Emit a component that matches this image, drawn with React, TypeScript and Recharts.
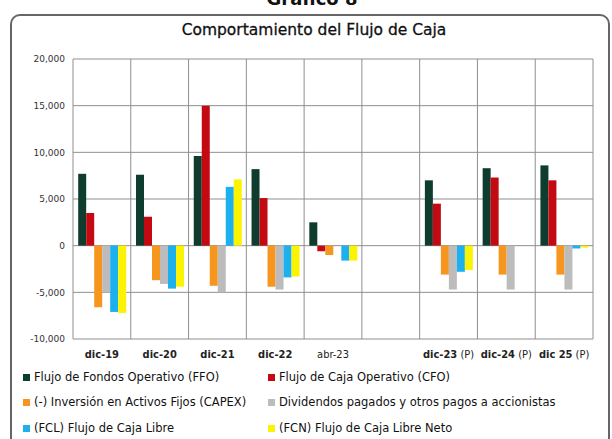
import { Bar, BarChart, CartesianGrid, XAxis, YAxis } from "recharts";

const categories = ["dic-19", "dic-20", "dic-21", "dic-22", "abr-23", "", "dic-23 (P)", "dic-24 (P)", "dic 25 (P)"];
const ffo = [7700, 7600, 9600, 8200, 2500, 0, 7000, 8300, 8600];
const cfo = [3500, 3100, 15000, 5100, -600, 0, 4500, 7300, 7000];
const capex = [-6600, -3700, -4300, -4400, -1000, 0, -3100, -3100, -3100];
const dividendos = [-5000, -4100, -5000, -4700, 0, 0, -4700, -4700, -4700];
const fcl = [-7100, -4600, 6300, -3400, -1600, 0, -2800, 0, -300];
const fcn = [-7200, -4400, 7100, -3300, -1600, 0, -2600, 0, -200];
const yTicks = [-10000, -5000, 0, 5000, 10000, 15000, 20000];

const series = [
  { key: "ffo", name: "Flujo de Fondos Operativo (FFO)", color: "#0e3d2f", values: ffo },
  { key: "cfo", name: "Flujo de Caja Operativo (CFO)", color: "#c30a12", values: cfo },
  { key: "capex", name: "(-) Inversión en Activos Fijos (CAPEX)", color: "#f7961e", values: capex },
  { key: "div", name: "Dividendos pagados y otros pagos a accionistas", color: "#bcbcbc", values: dividendos },
  { key: "fcl", name: "(FCL) Flujo de Caja Libre", color: "#1cb0ee", values: fcl },
  { key: "fcn", name: "(FCN) Flujo de Caja Libre Neto", color: "#fcf300", values: fcn },
];

const data = categories.map((c, i) => {
  const row: Record<string, string | number> = { cat: c };
  series.forEach((s) => (row[s.key] = s.values[i]));
  return row;
});

const font = "'DejaVu Sans', Verdana, sans-serif";
const condensed = "'DejaVu Sans Condensed', 'DejaVu Sans', sans-serif";

// bold "dic" period names, normal-weight "(P)" suffix and abr-23
function CatTick({ x, y, payload }: any) {
  const label: string = payload.value || "";
  const m = label.match(/^(.*?)(\s*\(P\))?$/);
  const main = m ? m[1] : label;
  const suffix = m && m[2] ? m[2] : "";
  const bold = main.startsWith("dic");
  return (
    <text x={x} y={y + 11} textAnchor="middle" fontSize={11} fill="#222" fontFamily={condensed}>
      <tspan fontWeight={bold ? "bold" : "normal"}>{main}</tspan>
      {suffix && <tspan>{suffix}</tspan>}
    </text>
  );
}

export default function App() {
  return (
    <div style={{ position: "absolute", left: 0, top: 0, width: 612, height: 439, background: "#fff", overflow: "hidden", fontFamily: font }}>
      <div style={{ position: "absolute", top: -12, left: 6, width: 612, textAlign: "center", fontSize: 18, fontWeight: "bold", color: "#111" }}>
        Gráfico 8
      </div>
      <div style={{ position: "absolute", left: 10, top: 14, width: 596, height: 440, border: "2px solid #666", borderRadius: 10 }} />
      <div style={{ position: "absolute", top: 21, left: 8, width: 612, textAlign: "center", fontSize: 15.5, color: "#111", WebkitTextStroke: "0.3px #111" }}>
        Comportamiento del Flujo de Caja
      </div>
      <div style={{ position: "absolute", left: 0, top: 0 }}>
        <BarChart
          width={612}
          height={439}
          data={data}
          margin={{ top: 59, right: 19, left: 18, bottom: 80 }}
          barCategoryGap="9%"
          barGap={0}
        >
          <CartesianGrid
            stroke="#8f8f8f"
            strokeWidth={1}
            verticalCoordinatesGenerator={({ offset }: any) =>
              categories.map((_, i) => offset.left + (i * offset.width) / categories.length).concat(offset.left + offset.width)
            }
          />
          <XAxis dataKey="cat" axisLine={false} tickLine={false} interval={0} height={20} tick={<CatTick />} />
          <YAxis
            domain={[-10000, 20000]}
            ticks={yTicks}
            width={55}
            axisLine={false}
            tickLine={false}
            tickFormatter={(v: number) => v.toLocaleString("en-US")}
            tick={{ fontSize: 9, fill: "#333", fontFamily: font }}
          />
          {series.map((s) => (
            <Bar key={s.key} dataKey={s.key} name={s.name} fill={s.color} isAnimationActive={false} />
          ))}
        </BarChart>
      </div>
      {series.map((s, i) => (
        <div
          key={s.key}
          style={{
            position: "absolute",
            left: i % 2 === 0 ? 23 : 268,
            top: [370, 395, 421][Math.floor(i / 2)],
            fontSize: 11.5,
            color: "#111",
            whiteSpace: "nowrap",
            display: "flex",
            alignItems: "center",
          }}
        >
          <span style={{ display: "inline-block", width: 7, height: 7, background: s.color, marginRight: 4 }} />
          {s.name}
        </div>
      ))}
    </div>
  );
}
